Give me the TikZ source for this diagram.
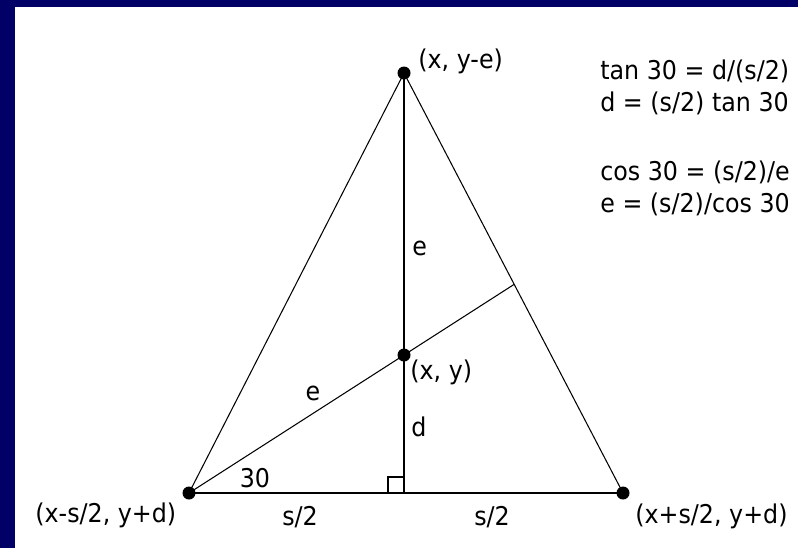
\documentclass[tikz,border=0pt]{standalone}
\usepackage{fontspec}
\setmainfont{DejaVu Sans}[FakeStretch=0.92]
\definecolor{navy}{RGB}{0,0,102}
\begin{document}
\begin{tikzpicture}[x=0.02cm,y=-0.02cm,
  lbl/.style={inner sep=0pt,font=\fontsize{14.7pt}{17pt}\selectfont,text=black},
  thinline/.style={line width=0.6pt},
  boldline/.style={line width=0.9pt},
  vdot/.style={fill=black}]
\useasboundingbox (0,0) rectangle (798,548);
\fill[navy] (0,0) rectangle (798,548);
\fill[white] (15,7) rectangle (798,548);
% vertices
\coordinate (T) at (404,73);
\coordinate (C) at (404,355);
\coordinate (BL) at (189,493);
\coordinate (BR) at (623,493);
\coordinate (M) at (C|-BL);
\coordinate (F) at (intersection of BL--C and T--BR);
% triangle
\draw[thinline] (BL) -- (T) -- (BR);
\draw[boldline] (BL) -- (BR);
\draw[boldline] (T) -- (M);
\draw[thinline] (BL) -- (F);
% right angle mark
\draw[thinline] ([xshift=-16*0.02cm]M) |- ([yshift=16*0.02cm]M);
% dots
\foreach \p in {T,C,BL,BR} \fill[vdot] (\p) circle[radius=3.7pt];
% labels
\node[lbl,anchor=west] (lt) at (418,61) {(x, y-e)};
\node[lbl,anchor=west] (lc) at (410,372) {(x, y)};
\node[lbl,anchor=west] (ll) at (35,515) {(x-s/2, y+d)};
\node[lbl,anchor=west] (lr) at (635,516) {(x+s/2, y+d)};
\node[lbl,anchor=west] (le1) at (412,248) {e};
\node[lbl,anchor=west] (ld) at (411,427) {d};
\node[lbl] (le2) at (313,393) {e};
\node[lbl] (l30) at (255,478) {30};
\node[lbl] (ls1) at (300,517) {s/2};
\node[lbl] (ls2) at (492,517) {s/2};
% equations
\node[lbl,anchor=west] (q1) at (600,71) {tan 30 = d/(s/2)};
\node[lbl,anchor=west] (q2) at (600,103) {d = (s/2) tan 30};
\node[lbl,anchor=west] (q3) at (600,172) {cos 30 = (s/2)/e};
\node[lbl,anchor=west] (q4) at (600,204) {e = (s/2)/cos 30};
\end{tikzpicture}
\end{document}
